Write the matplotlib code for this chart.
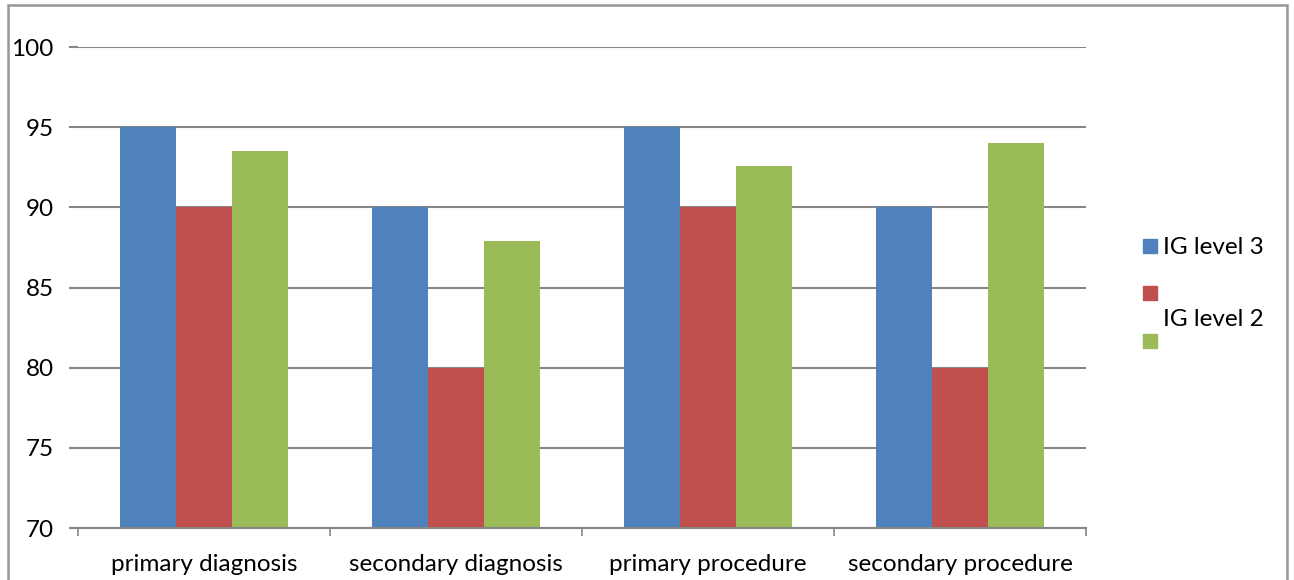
import matplotlib
matplotlib.use('Agg')
import matplotlib.pyplot as plt
import matplotlib.patches as mpatches
import numpy as np

plt.rcParams['font.family'] = ['Lato', 'DejaVu Sans']

categories = ['primary diagnosis', 'secondary diagnosis', 'primary procedure', 'secondary procedure']
ig_level3 = [95, 90, 95, 90]
series_red = [90, 80, 90, 80]
ig_level2 = [93.5, 87.9, 92.6, 94.0]
series_names = ['IG level 3', '', 'IG level 2']
colors = ['#4f81bd', '#c0504d', '#9bbb59']
grid_col = '#868686'
fs = 17.5

W, H = 1294, 580
fig = plt.figure(figsize=(W / 100, H / 100), dpi=100)
ax = fig.add_axes([78 / W, 1 - 528 / H, (1086 - 78) / W, (528 - 47) / H])

x = np.arange(len(categories))
bw = 0.223
for i, vals in enumerate([ig_level3, series_red, ig_level2]):
    ax.bar(x + (i - 1) * bw, np.array(vals) - 70, bw, bottom=70, color=colors[i], zorder=3)

ax.set_xlim(-0.5, len(categories) - 0.5)
ax.set_ylim(70, 100)
ax.set_yticks(range(70, 101, 5))
ax.grid(axis='y', color=grid_col, linewidth=1.5, zorder=1)
for s in ['left', 'right', 'top']:
    ax.spines[s].set_visible(False)
ax.spines['bottom'].set_color(grid_col)
ax.spines['bottom'].set_linewidth(1.5)
ax.spines['bottom'].set_zorder(4)

ax.set_xticks(x)
ax.set_xticklabels(categories)
ax.set_xticks(np.arange(-0.5, len(categories), 1), minor=True)
ax.tick_params(axis='x', which='major', length=0, pad=19, labelsize=fs)
ax.tick_params(axis='x', which='minor', length=6, width=1.2, color=grid_col, direction='out')
ax.tick_params(axis='y', length=6.5, width=1.5, color=grid_col, pad=11, labelsize=fs)

# legend drawn by hand to match the odd layout of the original
sq = 14
leg_y = [246, 293, 341]
for c, yy in zip(colors, leg_y):
    fig.add_artist(mpatches.Rectangle((1143 / W, 1 - (yy + sq / 2) / H), sq / W, sq / H,
                                      transform=fig.transFigure, color=c))
fig.text(1163 / W, 1 - 247 / H, series_names[0], fontsize=fs, va='center', ha='left')
fig.text(1163 / W, 1 - 320 / H, series_names[2], fontsize=fs, va='center', ha='left')

# outer border
fig.add_artist(mpatches.Rectangle((8 / W, -0.1), (1287 - 8) / W, 1.1 - 5 / H,
                                  transform=fig.transFigure, fill=False,
                                  edgecolor='#969696', linewidth=1.8, clip_on=False))

fig.savefig('out.png', dpi=100)
